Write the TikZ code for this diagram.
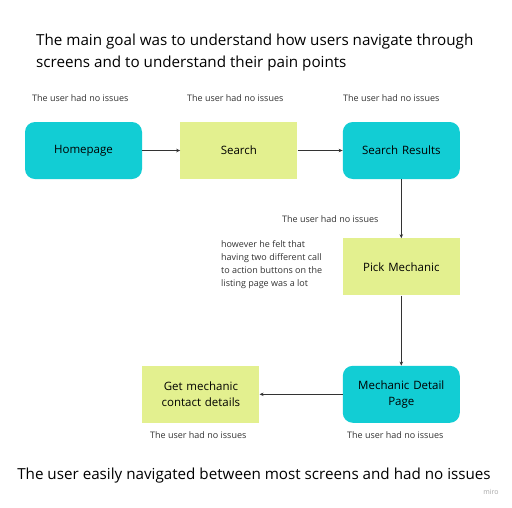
\documentclass[tikz,border=0pt]{standalone}
\usepackage{fontspec}
\setmainfont{Open Sans}
\usetikzlibrary{positioning, arrows.meta}
\definecolor{miroCyan}{HTML}{12CDD4}
\definecolor{miroLime}{HTML}{E3F08F}
\definecolor{inkGray}{HTML}{333333}
\tikzset{
  flow/.style={
	-{Stealth[length=4pt,width=3.5pt]}, % small filled heads
	draw=inkGray, line width=0.9pt, % thin dark connectors
  },
  screen/.style={rounded corners=10pt, fill=miroCyan, minimum width=117pt, minimum height=57pt, inner sep=0pt, text width=105pt, align=center, font=\fontsize{11.5}{16}\selectfont}, % cyan screen boxes
  action/.style={screen, rounded corners=0pt, fill=miroLime}, % lime action boxes
  remark/.style={font=\fontsize{9}{13}\selectfont, text=inkGray, inner sep=0pt}, % small notes
  headline/.style={font=\fontsize{15.2}{22}\selectfont, inner sep=0pt, align=left}, % big texts
}
\begin{document}
\begin{tikzpicture}[x=1pt, y=1pt]
	  \useasboundingbox (0,0) rectangle (512,-507);
	  \fill[white] (0,0) rectangle (512,-507);

	  \node[headline, anchor=west] (goal) at (36,-53) {The main goal was to understand how users navigate through\\screens and to understand their pain points};

	  \node[screen] (home) at (83.5,-150.5) {Homepage};
	  \node[action, right=38pt of home] (search) {Search};
	  \node[screen, right=45pt of search] (results) {Search Results};
	  \node[action, below=59pt of results] (pick) {Pick Mechanic};
	  \node[screen, below=70pt of pick] (detail) {Mechanic Detail\\Page};
	  \node[action, left=83pt of detail] (contact) {Get mechanic\\contact details};

	  \draw[flow] (home) -- (search);
	  \draw[flow] (search) -- (results);
	  \draw[flow] (results) -- (pick);
	  \draw[flow] (pick) -- (detail);
	  \draw[flow] (detail) -- (contact);

	  \node[remark, anchor=west] (noteHome) at (32,-98) {The user had no issues};
	  \node[remark, anchor=west] (noteSearch) at (187,-98) {The user had no issues};
	  \node[remark, anchor=west] (noteResults) at (343,-98) {The user had no issues};
	  \node[remark, anchor=west] (notePick) at (282,-219) {The user had no issues};
	  \node[remark, anchor=north west, align=left] (noteCta) at (221,-240) {however he felt that\\having two different call\\to action buttons on the\\listing page was a lot};
	  \node[remark, anchor=west] (noteContact) at (150,-435) {The user had no issues};
	  \node[remark, anchor=west] (noteDetail) at (347,-435) {The user had no issues};

	  \node[headline] (summary) at (254,-476) {The user easily navigated between most screens and had no issues};
	  \node[font=\fontsize{7}{8}\selectfont, text=black!35, inner sep=0pt] (miro) at (491,-492) {miro};
\end{tikzpicture}
\end{document}
